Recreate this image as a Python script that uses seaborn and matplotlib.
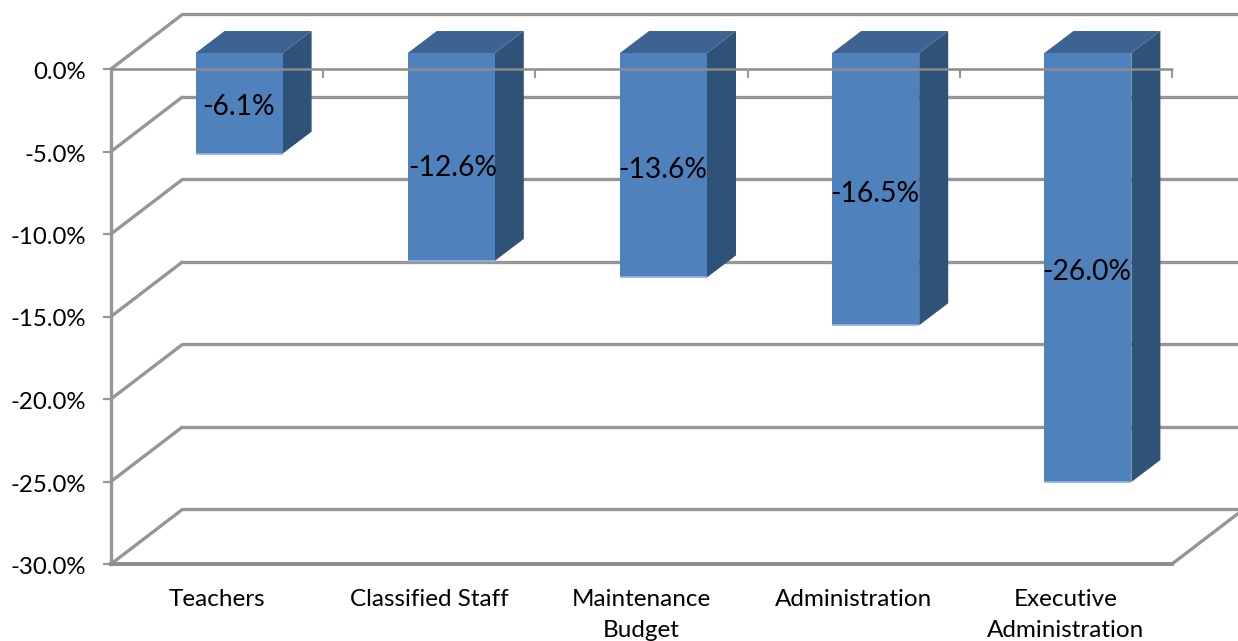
# 3D gorunumlu Excel bar grafigi, seaborn ile

import pandas as pd
import seaborn as sns
import matplotlib
matplotlib.use('Agg')
import matplotlib.pyplot as plt
from matplotlib.patches import Polygon
from matplotlib.transforms import Affine2D, IdentityTransform

categories = ['Teachers', 'Classified Staff', 'Maintenance\nBudget', 'Administration', 'Executive\nAdministration']
values = [-6.1, -12.6, -13.6, -16.5, -26.0]
y_ticks = [0, -5, -10, -15, -20, -25, -30]
y_tick_labels = ['0.0%', '-5.0%', '-10.0%', '-15.0%', '-20.0%', '-25.0%', '-30.0%']

W, H = 1238, 641
GRID = '#969696'
FRONT, TOP, SIDE, EDGE = '#4f81bd', '#3c6392', '#2f5279', '#8fb1dd'

sns.set_theme(style='white')
plt.rcParams['font.family'] = ['Lato', 'DejaVu Sans']

fig = plt.figure(figsize=(W / 100, H / 100), dpi=100)
ax = fig.add_axes([111 / W, 1 - 564 / H, 1061 / W, 495 / H])

df = pd.DataFrame({'cat': categories, 'val': values})
sns.barplot(data=df, x='cat', y='val', color=FRONT, saturation=1, width=0.41, linewidth=0, ax=ax, zorder=3)
ax.set_xlim(-0.5, 4.5)
ax.set_ylim(-30, 0)
ax.set_xlabel('')
ax.set_ylabel('')

# perspektif kaydirmalari (piksel)
wall = Affine2D().translate(72, 55)
front_shift = Affine2D().translate(22, 16)
dx, dy = 29, 22


def pixel_line(points, color=GRID, lw=2.4, zorder=1):
    ax.add_patch(Polygon(points, closed=False, fill=False, edgecolor=color, lw=lw,
                         transform=IdentityTransform(), clip_on=False, zorder=zorder))


# arka duvar ve sol duvar cizgileri
for t in y_ticks:
    ax.plot([-0.5, 4.5], [t, t], color=GRID, lw=2.4, transform=ax.transData + wall, clip_on=False, zorder=1)
    x0, y0 = ax.transData.transform((-0.5, t))
    pixel_line([(x0, y0), (x0 + 72, y0 + 55)])

# taban sag kenar
x1, y1 = ax.transData.transform((4.5, -30))
pixel_line([(x1, y1), (x1 + 72, y1 + 55)])

# barlarin on, ust ve yan yuzleri
for patch in list(ax.patches):
    if not hasattr(patch, 'get_width'):
        continue
    x_l = patch.get_x()
    x_r = x_l + patch.get_width()
    v = patch.get_y() + patch.get_height()
    (lx, ty), (rx, by) = ax.transData.transform([(x_l, 0), (x_r, v)])
    lx, rx, ty, by = lx + 22, rx + 22, ty + 16, by + 16
    ax.add_patch(Polygon([(rx, ty), (rx + dx, ty + dy), (rx + dx, by + dy), (rx, by)], facecolor=SIDE, edgecolor='none',
                         transform=IdentityTransform(), clip_on=False, zorder=2))
    ax.add_patch(Polygon([(lx, ty), (lx + dx, ty + dy), (rx + dx, ty + dy), (rx, ty)], facecolor=TOP, edgecolor='none',
                         transform=IdentityTransform(), clip_on=False, zorder=2))
    patch.set_transform(ax.transData + front_shift)
    patch.set_clip_on(False)
    pixel_line([(lx, by), (rx, by)], color=EDGE, lw=1.2, zorder=3.5)

# on duzlemdeki 0 cizgisi ve kisa tikler
ax.plot([-0.5, 4.5], [0, 0], color='#8c8c8c', lw=1.8, clip_on=False, zorder=4)
for i in range(5):
    px, py = ax.transData.transform((i + 0.5, 0))
    pixel_line([(px, py), (px, py - 9)], lw=1.5, zorder=4)

# veri etiketleri
label_nudge = [-4, -11, -5, -5, -4]
label_x = [-1, 1, -1, -1, -1]
for i, v in enumerate(values):
    ax.text(i, v / 2, f'{v:.1f}%', ha='center', va='center', fontsize=20.3, color='black', zorder=5,
            transform=ax.transData + Affine2D().translate(22 + label_x[i], 16 + label_nudge[i]))

ax.set_yticks(y_ticks)
ax.set_yticklabels(y_tick_labels)
ax.tick_params(axis='y', left=True, length=6, width=1.6, color=GRID, labelsize=17.3, pad=12, labelcolor='black')
ax.tick_params(axis='x', bottom=False, labelsize=17.5, pad=12, labelcolor='black')
for lab in ax.get_xticklabels():
    lab.set_linespacing(1.6)
for lab in ax.get_yticklabels():
    lab.set_transform(lab.get_transform() + Affine2D().translate(0, -1.5))

sns.despine(ax=ax, top=True, right=True)
ax.spines['left'].set_color(GRID)
ax.spines['left'].set_linewidth(2.4)
ax.spines['bottom'].set_color('#8c8c8c')
ax.spines['bottom'].set_linewidth(2.8)
ax.patch.set_alpha(0)

fig.savefig('out.png', dpi=100)
